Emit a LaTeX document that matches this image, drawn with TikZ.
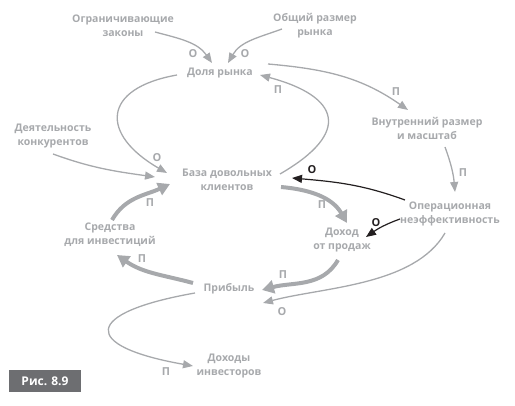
\documentclass[tikz,border=0pt]{standalone}
\usepackage{fontspec}
\setmainfont{Open Sans}
\usepackage{tikz}
\usetikzlibrary{arrows.meta,positioning}

\definecolor{txtgray}{HTML}{A7A9AC}
\definecolor{figgray}{HTML}{6D6E71}
\definecolor{dark}{HTML}{231F20}

\begin{document}
\begin{tikzpicture}[x=1pt, y=1pt,
	var/.style={text=txtgray, font=\bfseries\fontsize{10.5}{14}\selectfont, align=center, inner sep=1pt},
	sgn/.style={text=txtgray, font=\bfseries\fontsize{11}{11}\selectfont, inner sep=0pt},
	link/.style={draw=txtgray, line width=1.3pt, -{Triangle[length=10pt,width=8pt]}},
	heavy/.style={draw=txtgray, line width=4pt, -{Triangle[length=12pt,width=13pt]}},
	neg/.style={draw=dark, line width=1.2pt, -{Triangle[length=10pt,width=8pt]}}]
	\useasboundingbox (0,0) rectangle (515,406);

	\node[var] (zak) at (123,380) {Ограничивающие\\законы};
	\node[var] (obsh) at (315,380) {Общий размер\\рынка};
	\node[var] (dolya) at (220,333) {Доля рынка};
	\node[var] (vnut) at (427,278) {Внутренний размер\\и масштаб};
	\node[var] (deyat) at (53,270) {Деятельность\\конкурентов};
	\node[var] (baza) at (227,226) {База довольных\\клиентов};
	\node[var] (oper) at (450,192) {Операционная\\неэффективность};
	\node[var] (dohod) at (342,166) {Доход\\от продаж};
	\node[var] (sredst) at (110,171) {Средства\\для инвестиций};
	\node[var] (prib) at (229,117) {Прибыль};
	\node[var] (invest) at (229,40) {Доходы\\инвесторов};
	\node[fill=figgray, text=white, font=\bfseries\fontsize{12}{14}\selectfont,
		minimum width=72pt, minimum height=22pt, inner sep=0pt] (fig) at (45,25) {Рис. 8.9};

	% market share
	\draw[link] ([shift={(32,-6)}]zak.center) to[out=-15, in=125] ([shift={(-8,10)}]dolya.center);
	\draw[link] ([shift={(-33,-3)}]obsh.center) to[out=200, in=60] ([shift={(8,10)}]dolya.center);
	\draw[link] ([shift={(48,9)}]dolya.center) to[out=-5, in=145] ([shift={(-19,18)}]vnut.center);
	\draw[link] ([shift={(-43,-2)}]dolya.center) to[out=190, in=150, looseness=2] ([shift={(-60,7)}]baza.center);
	\draw[link] ([shift={(53,6)}]baza.center) to[out=30, in=-15, looseness=2.1] ([shift={(40,-2)}]dolya.center);

	% customer base
	\draw[link] ([shift={(0,-18)}]deyat.center) to[out=-20, in=172] ([shift={(-72,3)}]baza.center);
	\draw[heavy] ([shift={(2,15)}]sredst.center) to[out=60, in=205] ([shift={(-57,-4)}]baza.center);
	\draw[heavy] ([shift={(54,-7)}]baza.center) to[out=-5, in=120] ([shift={(5,17)}]dohod.center);

	% inefficiency
	\draw[link] ([shift={(18,-19)}]vnut.center) to[out=-70, in=95] ([shift={(5,22)}]oper.center);
	\draw[neg] ([shift={(-45,14)}]oper.center) to[out=160, in=-5] ([shift={(65,2)}]baza.center);
	\draw[neg] ([shift={(-50,-5)}]oper.center) to[out=200, in=35] ([shift={(24,3)}]dohod.center);

	% profit
	\draw[heavy] ([shift={(-4,-20)}]dohod.center) to[out=-120, in=15] ([shift={(33,-1)}]prib.center);
	\draw[link] ([shift={(-5,-19)}]oper.center) to[out=-120, in=15, looseness=0.8] ([shift={(34,-14)}]prib.center);
	\draw[heavy] ([shift={(-36,6)}]prib.center) to[out=165, in=-35] ([shift={(7,-20)}]sredst.center);
	\draw[link] ([shift={(-34,-4)}]prib.center) to[out=190, in=170, looseness=4] ([shift={(-36,0)}]invest.center);

	% signs
	\node[sgn] (o1) at (193,352) {О};
	\node[sgn] (o2) at (245,352) {О};
	\node[sgn] (p3) at (396,314) {П};
	\node[sgn] (o4) at (157,248) {О};
	\node[sgn] (p5) at (278,316) {П};
	\node[sgn] (p7) at (150,203) {П};
	\node[sgn] (p8) at (322,201) {П};
	\node[sgn] (p9) at (463,233) {П};
	\node[sgn, text=dark] (o10) at (312,236) {О};
	\node[sgn, text=dark] (o11) at (376,183) {О};
	\node[sgn] (p12) at (283,131) {П};
	\node[sgn] (o13) at (282,94) {О};
	\node[sgn] (p14) at (142,147) {П};
	\node[sgn] (p15) at (166,34) {П};
\end{tikzpicture}
\end{document}
